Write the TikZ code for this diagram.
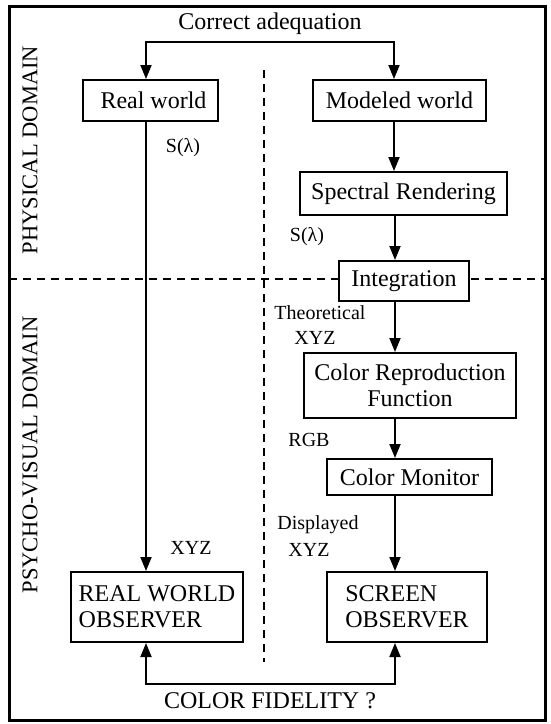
\documentclass[tikz,border=0pt]{standalone}
\usepackage{fontspec}
\setmainfont{Liberation Serif}
\usetikzlibrary{arrows.meta}
\begin{document}
\begin{tikzpicture}[x=1pt,y=-1pt,
  boxnode/.style={draw, line width=2pt, fill=white, inner sep=0pt, font=\fontsize{24}{26}\selectfont},
  lbl/.style={inner sep=0pt, font=\fontsize{20}{22}\selectfont},
  domainlbl/.style={inner sep=0pt, rotate=90, font=\fontsize{22.5}{24}\selectfont},
  conn/.style={line width=1.8pt, -{Triangle[length=14pt,width=11pt]}},
  conn2/.style={line width=1.8pt, {Triangle[length=14pt,width=11pt]}-{Triangle[length=14pt,width=11pt]}},
  dashline/.style={line width=1.2pt, dash pattern=on 8pt off 6pt}]
\useasboundingbox (0,0) rectangle (550,724);
\draw[line width=3pt] (9,6) rectangle (545,720);
% dashed separators
\coordinate (dl) at (9,279);
\coordinate (dr) at (545,279);
\coordinate (vt) at (264,70);
\coordinate (vb) at (264,662);
\draw[dashline] (dl) -- (dr);
\draw[dashline] (vt) -- (vb);
% domain labels
\node[domainlbl] (phys) at (30,150) {PHYSICAL DOMAIN};
\node[domainlbl] (psy) at (30,455) {PSYCHO-VISUAL DOMAIN};
% boxes
\node[boxnode, minimum width=135pt, minimum height=41pt] (rw) at (150.5,100.5) {\hspace*{6pt}Real world};
\node[boxnode, minimum width=173pt, minimum height=41pt] (mw) at (399.5,100.5) {Modeled world};
\node[boxnode, minimum width=207pt, minimum height=43pt] (sr) at (403.5,193.5) {Spectral Rendering};
\node[boxnode, minimum width=130pt, minimum height=40pt] (ig) at (404,281) {Integration};
\node[boxnode, minimum width=212pt, minimum height=65pt, align=center] (crf) at (410,385.5) {Color Reproduction\\Function};
\node[boxnode, minimum width=165pt, minimum height=36pt] (cm) at (409.5,477) {Color Monitor};
\node[boxnode, minimum width=172pt, minimum height=70pt, align=left] (rwo) at (157,607) {REAL WORLD\\OBSERVER};
\node[boxnode, minimum width=160pt, minimum height=70pt, align=left] (so) at (407,607) {SCREEN\\OBSERVER};
% texts
\node[inner sep=0pt, font=\fontsize{24}{26}\selectfont] (ca) at (270,24) {Correct adequation};
\node[inner sep=0pt, font=\fontsize{24}{26}\selectfont] (cf) at (270,701) {COLOR FIDELITY ?};
\node[lbl] (s1) at (183,148) {S(λ)};
\node[lbl] (s2) at (307,237) {S(λ)};
\node[lbl] (th) at (320,313) {Theoretical};
\node[lbl] (x1) at (315,338) {XYZ};
\node[lbl] (rgb) at (309,440) {RGB};
\node[lbl] (dp) at (318,525) {Displayed};
\node[lbl] (x2) at (309,550) {XYZ};
\node[lbl] (x3) at (191,548) {XYZ};
% connectors
\coordinate (tl) at (146,42);
\coordinate (tr) at (394,42);
\coordinate (bl) at (146,684);
\coordinate (br) at (395,684);
\draw[conn2] (tl |- rw.north) -- (tl) -- (tr) -- (tr |- mw.north);
\draw[conn] (rw.south -| tl) -- (rwo.north -| tl);
\draw[conn] (mw.south -| tr) -- (sr.north -| tr);
\draw[conn] (sr.south -| br) -- (ig.north -| br);
\draw[conn] (ig.south -| br) -- (crf.north -| br);
\draw[conn] (crf.south -| br) -- (cm.north -| br);
\draw[conn] (cm.south -| br) -- (so.north -| br);
\draw[conn2] (rwo.south -| bl) -- (bl) -- (br) -- (so.south -| br);
\end{tikzpicture}
\end{document}
